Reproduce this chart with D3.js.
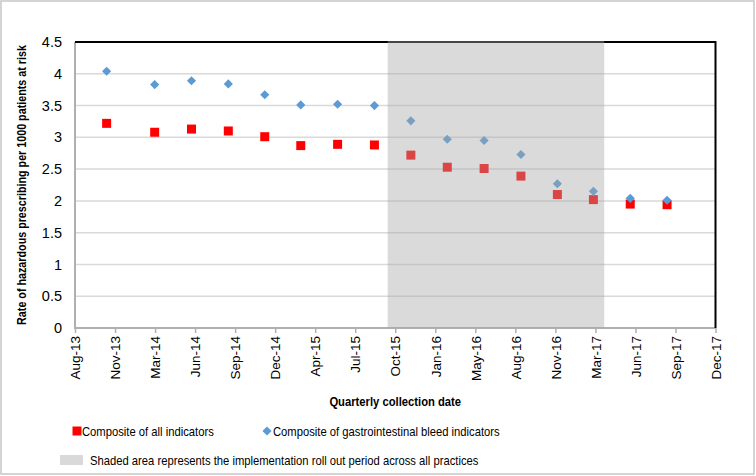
<!DOCTYPE html>
<html>
<head>
<meta charset="utf-8">
<script src="https://cdn.jsdelivr.net/npm/d3@7"></script>
<style>
  body { margin: 0; background: #fff; }
  svg text { font-family: "Liberation Sans", Arial, sans-serif; fill: #000; }
</style>
</head>
<body>
<div class="chart"></div>
<script>
// quarterly collection dates
const dates = ["2013-11-01", "2014-03-01", "2014-06-01", "2014-09-01", "2014-12-01", "2015-03-01",
  "2015-06-01", "2015-09-01", "2015-12-01", "2016-03-01", "2016-06-01", "2016-09-01",
  "2016-12-01", "2017-03-01", "2017-06-01", "2017-09-01"];
const allIndicators = [3.22, 3.08, 3.13, 3.10, 3.01, 2.87, 2.89, 2.88, 2.72, 2.53, 2.51, 2.39, 2.10, 2.02, 1.95, 1.94];
const giBleed = [4.04, 3.83, 3.89, 3.84, 3.67, 3.51, 3.52, 3.50, 3.26, 2.97, 2.95, 2.73, 2.27, 2.15, 2.04, 2.01];
// roll out period
const rollOut = ["2015-10-04", "2017-03-28"];
const xDomain = ["2013-08-14", "2017-12-31"];
const xTicks = ["2013-08-14", "2013-11-22", "2014-03-02", "2014-06-10", "2014-09-18", "2014-12-27",
  "2015-04-06", "2015-07-15", "2015-10-23", "2016-01-31", "2016-05-10", "2016-08-18",
  "2016-11-26", "2017-03-06", "2017-06-14", "2017-09-22", "2017-12-31"];
const yTicks = [0, 0.5, 1, 1.5, 2, 2.5, 3, 3.5, 4, 4.5];

const parse = d3.timeParse("%Y-%m-%d");
const W = 756, H = 476;
const m = { left: 75, right: 715.5, top: 42, bottom: 328 };

const svg = d3.select(".chart").append("svg")
  .attr("width", W).attr("height", H);

// outer chart border
svg.append("rect")
  .attr("x", 1).attr("y", 1).attr("width", W - 3).attr("height", H - 3)
  .attr("fill", "#fff").attr("stroke", "#c6c6c6").attr("stroke-width", 1.5);

const x = d3.scaleTime().domain(xDomain.map(parse)).range([m.left, m.right]);
const y = d3.scaleLinear().domain([0, 4.5]).range([m.bottom, m.top]);

// gridlines
svg.append("g")
  .selectAll("line")
  .data(yTicks.filter(d => d > 0 && d < 4.5))
  .enter().append("line")
  .attr("x1", m.left).attr("x2", m.right)
  .attr("y1", d => y(d)).attr("y2", d => y(d))
  .attr("stroke", "#d9d9d9").attr("stroke-width", 1.5);

// y axis
const yAxis = svg.append("g")
  .attr("transform", "translate(" + m.left + ",0)")
  .call(d3.axisLeft(y).tickValues(yTicks).tickSize(0).tickPadding(13).tickFormat(d3.format("")));
yAxis.select(".domain").remove();
yAxis.selectAll("text").style("font-size", "14.5px");

// x axis
const xAxis = svg.append("g")
  .attr("transform", "translate(0," + m.bottom + ")")
  .call(d3.axisBottom(x).tickValues(xTicks.map(parse)).tickSize(5).tickSizeOuter(0).tickFormat(d3.timeFormat("%b-%y")));
xAxis.select(".domain").remove();
xAxis.selectAll("line").attr("stroke", "#b0b0b0").attr("stroke-width", 1.5);
xAxis.selectAll("text")
  .style("font-size", "13.5px")
  .attr("text-anchor", "end")
  .attr("transform", "rotate(-90)")
  .attr("x", -8).attr("y", 0).attr("dy", "0.35em");

// plot border: grey left/bottom, black top/right
svg.append("path")
  .attr("d", `M${m.left},${m.top}V${m.bottom}H${m.right}`)
  .attr("fill", "none").attr("stroke", "#b0b0b0").attr("stroke-width", 2);
svg.append("path")
  .attr("d", `M${m.left},${m.top}H${m.right}V${m.bottom}`)
  .attr("fill", "none").attr("stroke", "#000").attr("stroke-width", 2);

// markers
const sq = d3.symbol().type(d3.symbolSquare).size(81);
const dm = d3.symbol().type(d3.symbolSquare).size(42);

svg.append("g")
  .selectAll("path")
  .data(dates.map((d, i) => ({ date: parse(d), value: allIndicators[i] })))
  .enter().append("path")
  .attr("d", sq)
  .attr("transform", d => "translate(" + x(d.date) + "," + y(d.value) + ")")
  .attr("fill", "#ff0000");

svg.append("g")
  .selectAll("path")
  .data(dates.map((d, i) => ({ date: parse(d), value: giBleed[i] })))
  .enter().append("path")
  .attr("d", dm)
  .attr("transform", d => "translate(" + x(d.date) + "," + y(d.value) + ") rotate(45)")
  .attr("fill", "#5b9bd5");

// shaded roll out period, drawn over the markers
svg.append("rect")
  .attr("x", x(parse(rollOut[0])))
  .attr("width", x(parse(rollOut[1])) - x(parse(rollOut[0])))
  .attr("y", m.top - 1).attr("height", m.bottom - m.top + 1)
  .attr("fill", "#a6a6a6").attr("opacity", 0.42);

// axis titles (the original font is a bit condensed, so squeeze horizontally)
svg.append("text")
  .attr("transform", "translate(26," + ((m.top + m.bottom) / 2) + ") rotate(-90) scale(0.86,1)")
  .attr("text-anchor", "middle")
  .style("font-size", "12.5px").style("font-weight", "bold")
  .text("Rate of hazardous prescribing per 1000 patients at risk");

svg.append("text")
  .attr("transform", "translate(" + ((m.left + m.right) / 2) + ",406) scale(0.9,1)")
  .attr("text-anchor", "middle")
  .style("font-size", "12.5px").style("font-weight", "bold")
  .text("Quarterly collection date");

// legend
const legend = svg.append("g");
const legendText = (tx, ty, label) => legend.append("text")
  .attr("transform", "translate(" + tx + "," + ty + ") scale(0.9,1)")
  .style("font-size", "12.5px")
  .text(label);

legend.append("path").attr("d", sq).attr("transform", "translate(77,431)").attr("fill", "#ff0000");
legendText(82, 436, "Composite of all indicators");
legend.append("path").attr("d", dm).attr("transform", "translate(267,431) rotate(45)").attr("fill", "#5b9bd5");
legendText(273, 436, "Composite of gastrointestinal bleed indicators");
legend.append("rect").attr("x", 60).attr("y", 455).attr("width", 23).attr("height", 10).attr("fill", "#d9d9d9");
legendText(90, 465, "Shaded area represents the implementation roll out period across all practices");
</script>
</body>
</html>
